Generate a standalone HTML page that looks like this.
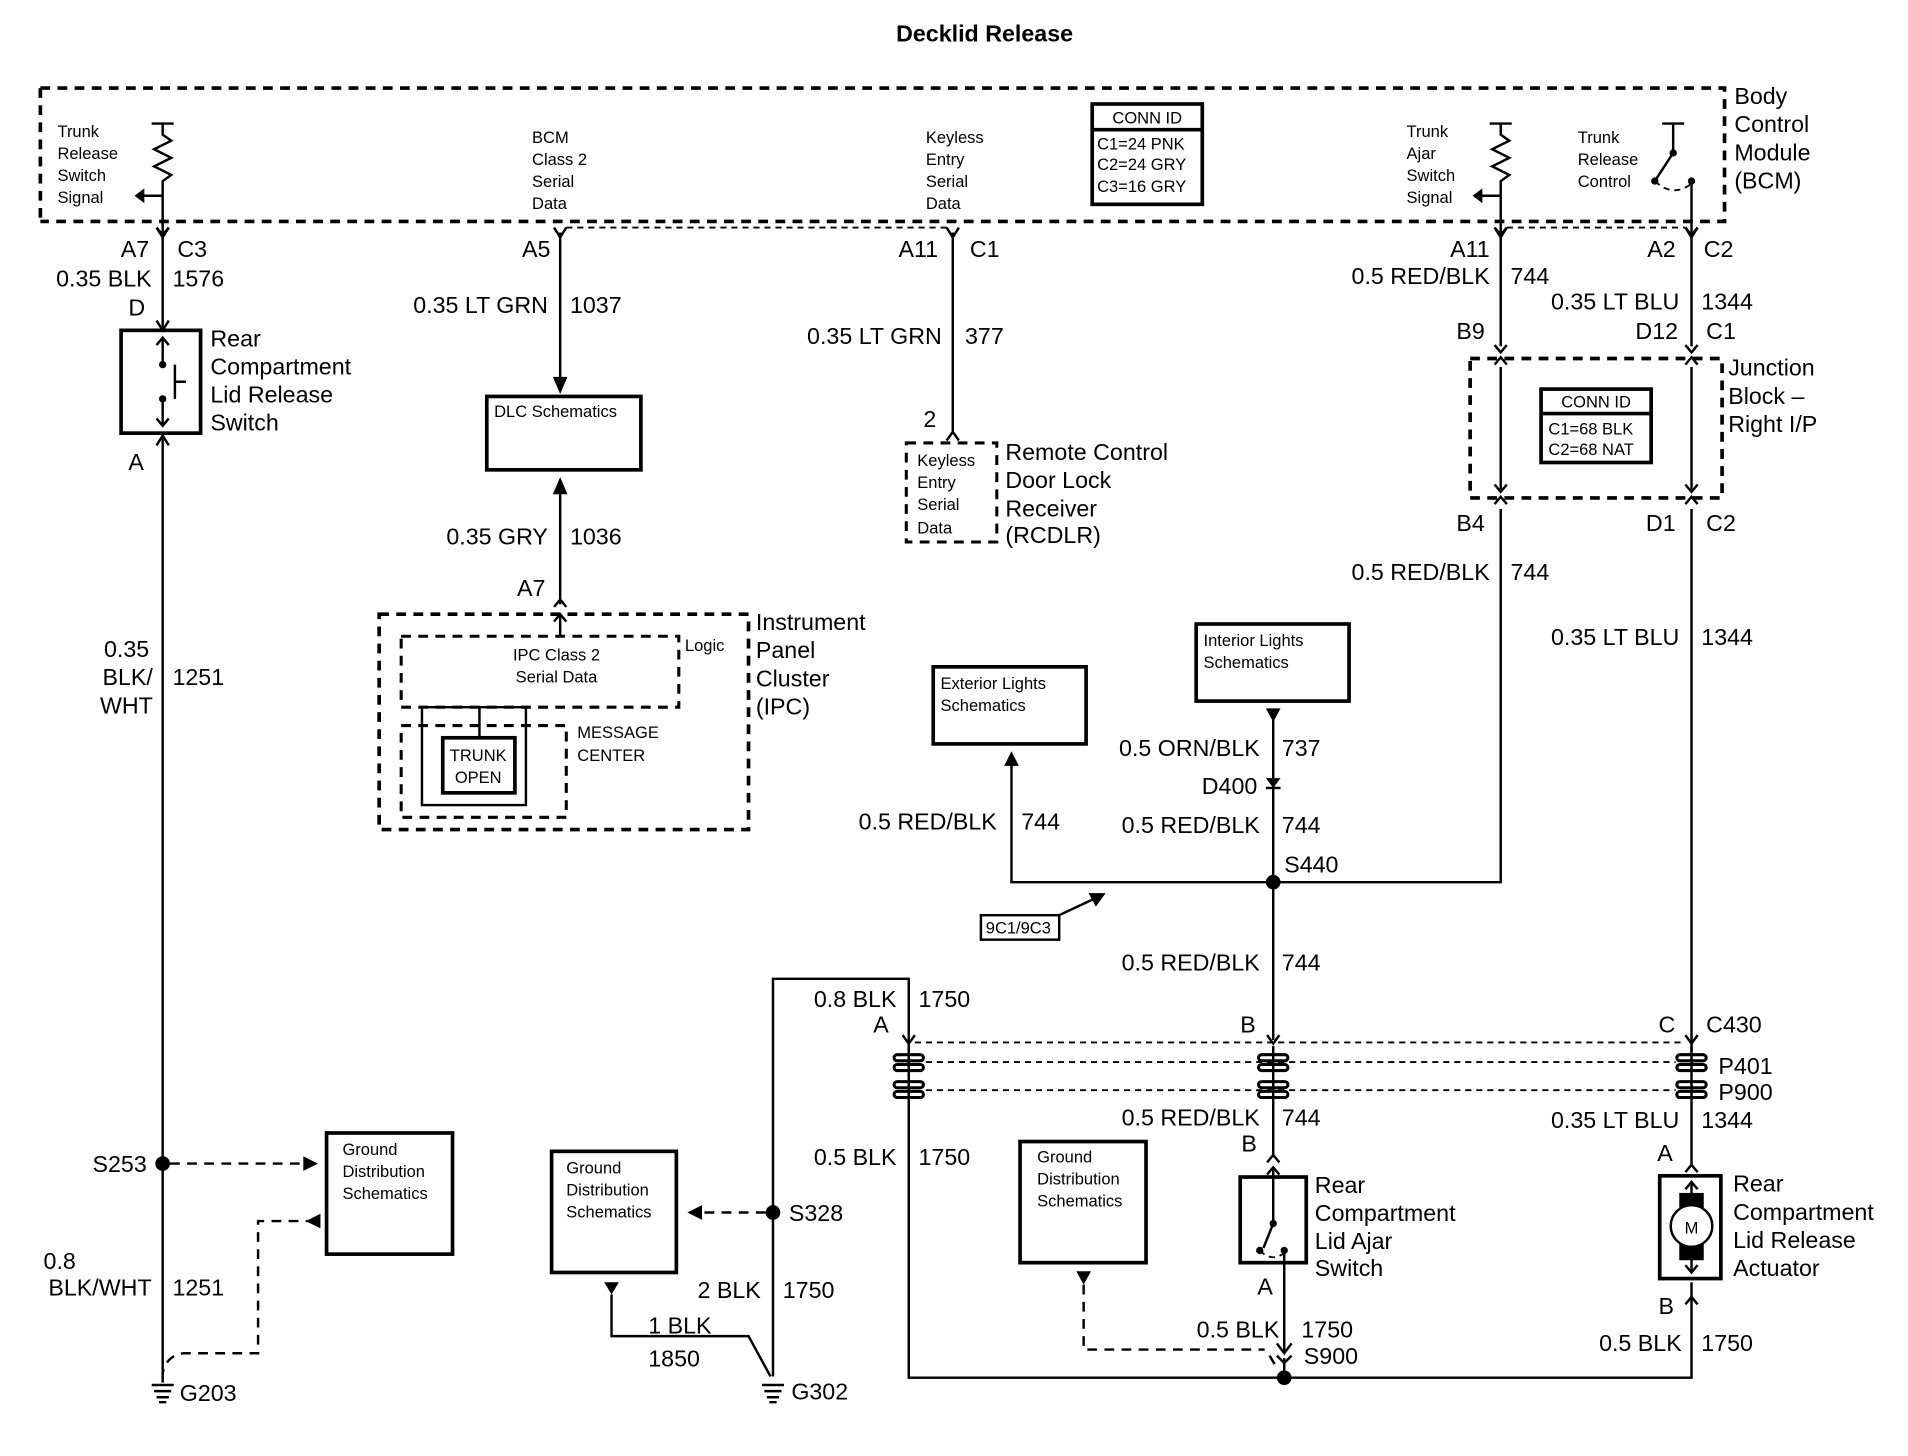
<!DOCTYPE html>
<html><head><meta charset="utf-8"><style>
html,body{margin:0;padding:0;background:#fff;}
svg{display:block;}
text{font-family:"Liberation Sans Narrow","Liberation Sans",sans-serif;fill:#000;}
.L{font-size:19px;}
.S{font-size:13.5px;}
.e{text-anchor:end;}
.w{stroke:#000;stroke-width:2;fill:none;}
.d{stroke:#000;stroke-width:3;fill:none;stroke-dasharray:8,6;}
.dt{stroke:#000;stroke-width:1.5;fill:none;stroke-dasharray:5,4;}
.b{stroke:#000;stroke-width:3;fill:none;}
</style></head><body>
<svg width="1908" height="1456" viewBox="0 0 1560 1190" preserveAspectRatio="none" xmlns="http://www.w3.org/2000/svg">
<rect width="1560" height="1190" fill="#fff"/>
<text x="805" y="34" class="L" style="font-weight:bold" text-anchor="middle">Decklid Release</text>

<path class="d" d="M33 72 H1410 V181 H33 M33 72 V181"/>
<text class="L" x="1418" y="85">Body</text><text class="L" x="1418" y="108">Control</text><text class="L" x="1418" y="131">Module</text><text class="L" x="1418" y="154">(BCM)</text>
<g class="S"><text x="47" y="112">Trunk</text><text x="47" y="130">Release</text><text x="47" y="148">Switch</text><text x="47" y="166">Signal</text>
<text x="435" y="117">BCM</text><text x="435" y="135">Class 2</text><text x="435" y="153">Serial</text><text x="435" y="171">Data</text>
<text x="757" y="117">Keyless</text><text x="757" y="135">Entry</text><text x="757" y="153">Serial</text><text x="757" y="171">Data</text>
<text x="1150" y="112">Trunk</text><text x="1150" y="130">Ajar</text><text x="1150" y="148">Switch</text><text x="1150" y="166">Signal</text>
<text x="1290" y="117">Trunk</text><text x="1290" y="135">Release</text><text x="1290" y="153">Control</text></g>
<g class="w">
<path d="M124 101H142 M133 101V110 L140 115 L126 122 L140 129 L126 136 L140 143 L133 148 V192 M128 186 L133 192 L138 186 M133 160H112"/>
<path d="M1218 101H1236 M1227 101V110 L1234 115 L1220 122 L1234 129 L1220 136 L1234 143 L1227 148 V192 M1222 186 L1227 192 L1232 186 M1227 160H1206"/>
<path d="M1359 101H1377 M1368 101V125 L1353 148 M1383 150V192 M1378 186 L1383 192 L1388 186"/>
</g>
<path d="M110 160 L118 154 L118 166Z M1204 160 L1212 154 L1212 166Z"/>
<circle cx="1368" cy="125" r="3"/><circle cx="1353" cy="148" r="3"/><circle cx="1383" cy="148" r="3"/>
<path class="dt" d="M1353 148 Q1368 162 1383 150"/>
<rect x="893" y="85" width="90" height="82" class="b"/><line x1="893" y1="106" x2="983" y2="106" class="b"/>
<g class="S"><text x="938" y="101" text-anchor="middle">CONN ID</text><text x="897" y="122">C1=24 PNK</text><text x="897" y="139">C2=24 GRY</text><text x="897" y="157">C3=16 GRY</text></g>

<g class="w"><path d="M128 186 L133 194 L138 186 M453 186 L458 194 L463 186 M774 186 L779 194 L784 186 M1222 186 L1227 194 L1232 186 M1378 186 L1383 194 L1388 186"/></g>
<path class="dt" d="M463 186 H774 M1232 186 H1378"/>

<g class="w"><path d="M133 190 V270 M133 354 V1130"/></g>
<text class="L e" x="122" y="210">A7</text><text class="L" x="145" y="210">C3</text>
<text class="L e" x="124" y="234">0.35 BLK</text><text class="L" x="141" y="234">1576</text>
<text class="L" x="105" y="258">D</text>
<path class="w" d="M128 262 L133 270 L138 262"/>
<rect x="99" y="270" width="65" height="84" class="b"/>
<path class="w" d="M133 276 V298 M133 326 V348 M143 298 V326 M143 312 H152"/>
<circle cx="133" cy="298" r="3"/><circle cx="133" cy="326" r="3"/>
<path class="w" d="M128 282 L133 276 L138 282 M128 342 L133 348 L138 342 M128 364 L133 356 L138 364"/>
<g class="L"><text x="172" y="283">Rear</text><text x="172" y="306">Compartment</text><text x="172" y="329">Lid Release</text><text x="172" y="352">Switch</text></g>
<text class="L" x="105" y="384">A</text>
<text class="L e" x="122" y="537">0.35</text><text class="L e" x="125" y="560">BLK/</text><text class="L e" x="125" y="583">WHT</text><text class="L" x="141" y="560">1251</text>
<circle cx="133" cy="951" r="6"/>
<text class="L e" x="120" y="958">S253</text>
<path class="d" style="stroke-width:2" d="M139 951 H252 M258 998 H211 V1106 H150 Q136 1108 133 1122"/>
<path d="M260 951 L248 945 L248 957Z M250 998 L262 992 L262 1004Z"/>
<rect x="267" y="926" width="103" height="99" class="b"/>
<g class="S"><text x="280" y="944">Ground</text><text x="280" y="962">Distribution</text><text x="280" y="980">Schematics</text></g>
<text class="L e" x="62" y="1037">0.8</text><text class="L e" x="124" y="1059">BLK/WHT</text><text class="L" x="141" y="1059">1251</text>
<path class="w" d="M124 1132H142 M126 1137H140 M128 1142H138 M130 1146H136"/>
<text class="L" x="147" y="1145">G203</text>

<path class="w" d="M458 190 V316 M458 392 V494"/>
<path d="M458 322 L452 308 L464 308Z M458 390 L452 404 L464 404Z"/>
<text class="L e" x="450" y="210">A5</text>
<text class="L e" x="448" y="256">0.35 LT GRN</text><text class="L" x="466" y="256">1037</text>
<rect x="398" y="324" width="126" height="60" class="b"/>
<text class="S" x="404" y="341">DLC Schematics</text>
<text class="L e" x="448" y="445">0.35 GRY</text><text class="L" x="466" y="445">1036</text>
<text class="L e" x="446" y="487">A7</text>
<path class="w" d="M453 496 L458 490 L463 496 M453 508 L458 502 L463 508 M458 502 V520"/>
<path class="d" d="M310 502 H612 V678 H310 Z"/>
<path class="d" style="stroke-width:2.5" d="M328 520 H555 V578 H328 Z M328 593 H463 V668 H328 Z"/>
<g class="S"><text x="455" y="540" text-anchor="middle">IPC Class 2</text><text x="455" y="558" text-anchor="middle">Serial Data</text>
<text x="560" y="532">Logic</text><text x="472" y="603">MESSAGE</text><text x="472" y="622">CENTER</text></g>
<path class="w" d="M392 578 H345 V658 H430 V578 H392 M392 578 V603"/>
<rect x="362" y="603" width="59" height="45" class="b"/>
<g class="S"><text x="391" y="622" text-anchor="middle">TRUNK</text><text x="391" y="640" text-anchor="middle">OPEN</text></g>
<g class="L"><text x="618" y="515">Instrument</text><text x="618" y="538">Panel</text><text x="618" y="561">Cluster</text><text x="618" y="584">(IPC)</text></g>

<path class="w" d="M779 190 V355 M774 360 L779 353 L784 360"/>
<text class="L e" x="767" y="210">A11</text><text class="L" x="793" y="210">C1</text>
<text class="L e" x="770" y="281">0.35 LT GRN</text><text class="L" x="789" y="281">377</text>
<text class="L" x="755" y="349">2</text>
<path class="d" style="stroke-width:2.5" d="M741 362 H815 V443 H741 Z"/>
<g class="S"><text x="750" y="381">Keyless</text><text x="750" y="399">Entry</text><text x="750" y="417">Serial</text><text x="750" y="436">Data</text></g>
<g class="L"><text x="822" y="376">Remote Control</text><text x="822" y="399">Door Lock</text><text x="822" y="422">Receiver</text><text x="822" y="444">(RCDLR)</text></g>

<path class="w" d="M1227 190 V283 M1227 300 V400 M1227 416 V721 H1041"/>
<text class="L e" x="1218" y="210">A11</text>
<text class="L e" x="1218" y="232">0.5 RED/BLK</text><text class="L" x="1235" y="232">744</text>
<text class="L e" x="1214" y="277">B9</text>
<path class="w" d="M1222 282 L1227 288 L1232 282 M1222 298 L1227 292 L1232 298 M1222 396 L1227 402 L1232 396 M1222 412 L1227 406 L1232 412 M1378 282 L1383 288 L1388 282 M1378 298 L1383 292 L1388 298 M1378 396 L1383 402 L1388 396 M1378 412 L1383 406 L1388 412"/>
<path class="d" d="M1202 293 H1408 V407 H1202 Z"/>
<rect x="1260" y="318" width="90" height="60" class="b"/><line x1="1260" y1="338" x2="1350" y2="338" class="b"/>
<g class="S"><text x="1305" y="333" text-anchor="middle">CONN ID</text><text x="1266" y="355">C1=68 BLK</text><text x="1266" y="372">C2=68 NAT</text></g>
<g class="L"><text x="1413" y="307">Junction</text><text x="1413" y="330">Block –</text><text x="1413" y="353">Right I/P</text></g>
<text class="L e" x="1214" y="434">B4</text>
<text class="L e" x="1218" y="474">0.5 RED/BLK</text><text class="L" x="1235" y="474">744</text>

<path class="w" d="M1383 190 V283 M1383 300 V400 M1383 416 V860"/>
<text class="L e" x="1370" y="210">A2</text><text class="L" x="1393" y="210">C2</text>
<text class="L e" x="1373" y="253">0.35 LT BLU</text><text class="L" x="1391" y="253">1344</text>
<text class="L e" x="1372" y="277">D12</text><text class="L" x="1395" y="277">C1</text>
<text class="L e" x="1370" y="434">D1</text><text class="L" x="1395" y="434">C2</text>
<text class="L e" x="1373" y="527">0.35 LT BLU</text><text class="L" x="1391" y="527">1344</text>

<rect x="763" y="545" width="125" height="63" class="b"/>
<g class="S"><text x="769" y="563">Exterior Lights</text><text x="769" y="581">Schematics</text></g>
<rect x="978" y="510" width="125" height="63" class="b"/>
<g class="S"><text x="984" y="528">Interior Lights</text><text x="984" y="546">Schematics</text></g>
<path class="w" d="M1041 582 V850 M827 622 V721 H1041"/>
<path d="M1041 590 L1035 579 L1047 579Z M827 614 L821 626 L833 626Z"/>
<path d="M1041 644 L1035 636 L1047 636Z"/><path class="w" d="M1035 644 H1047"/>
<text class="L e" x="1030" y="618">0.5 ORN/BLK</text><text class="L" x="1048" y="618">737</text>
<text class="L e" x="1028" y="649">D400</text>
<text class="L e" x="1030" y="681">0.5 RED/BLK</text><text class="L" x="1048" y="681">744</text>
<text class="L e" x="815" y="678">0.5 RED/BLK</text><text class="L" x="835" y="678">744</text>
<circle cx="1041" cy="721" r="6"/>
<text class="L" x="1050" y="713">S440</text>
<rect x="802" y="748" width="64" height="20" class="w"/>
<text class="S" x="806" y="763">9C1/9C3</text>
<path class="w" d="M866 748 L898 733"/><path d="M904 730 L890 730 L896 741Z"/>
<text class="L e" x="1030" y="793">0.5 RED/BLK</text><text class="L" x="1048" y="793">744</text>

<path class="w" d="M632 1125 V800 H743 V860 M743 893 V1126 H1383 V1048"/>
<text class="L e" x="733" y="823">0.8 BLK</text><text class="L" x="751" y="823">1750</text>
<text class="L" x="714" y="844">A</text><text class="L" x="1014" y="844">B</text><text class="L" x="1356" y="844">C</text><text class="L" x="1395" y="844">C430</text>
<path class="w" d="M738 846 L743 853 L748 846 M1036 846 L1041 853 L1046 846 M1378 846 L1383 853 L1388 846"/>
<path class="dt" d="M748 852 H1378 M757 868 H1370 M757 891 H1370"/>
<g fill="#fff" stroke="#000" stroke-width="2.5">
<rect x="731" y="862" width="24" height="5" rx="2.5"/><rect x="731" y="870" width="24" height="5" rx="2.5"/>
<rect x="731" y="884" width="24" height="5" rx="2.5"/><rect x="731" y="892" width="24" height="5" rx="2.5"/>
<rect x="1029" y="862" width="24" height="5" rx="2.5"/><rect x="1029" y="870" width="24" height="5" rx="2.5"/>
<rect x="1029" y="884" width="24" height="5" rx="2.5"/><rect x="1029" y="892" width="24" height="5" rx="2.5"/>
<rect x="1371" y="862" width="24" height="5" rx="2.5"/><rect x="1371" y="870" width="24" height="5" rx="2.5"/>
<rect x="1371" y="884" width="24" height="5" rx="2.5"/><rect x="1371" y="892" width="24" height="5" rx="2.5"/>
</g>
<path class="w" d="M743 855 V900 M1041 855 V900 M1383 855 V900"/>
<text class="L" x="1405" y="878">P401</text><text class="L" x="1405" y="899">P900</text>
<text class="L e" x="733" y="952">0.5 BLK</text><text class="L" x="751" y="952">1750</text>

<path class="w" d="M1041 900 V946 M1036 950 L1041 944 L1046 950 M1036 960 L1041 954 L1046 960"/>
<text class="L e" x="1030" y="920">0.5 RED/BLK</text><text class="L" x="1048" y="920">744</text>
<text class="L" x="1015" y="941">B</text>
<rect x="1014" y="962" width="54" height="70" class="b"/>
<path class="w" d="M1041 954 V1000 L1033 1020 M1050 1020 V1105 M1044 1098 L1050 1106 L1056 1098 M1044 1108 L1050 1114 L1056 1108 M1050 1110 V1126"/>
<circle cx="1041" cy="1000" r="3"/><circle cx="1030" cy="1022" r="3"/><circle cx="1050" cy="1022" r="3"/>
<path class="dt" d="M1030 1022 Q1040 1032 1050 1024"/>
<g class="L"><text x="1075" y="975">Rear</text><text x="1075" y="998">Compartment</text><text x="1075" y="1021">Lid Ajar</text><text x="1075" y="1043">Switch</text></g>
<text class="L" x="1028" y="1058">A</text>
<text class="L e" x="1046" y="1093">0.5 BLK</text><text class="L" x="1064" y="1093">1750</text>
<text class="L" x="1066" y="1115">S900</text>
<circle cx="1050" cy="1126" r="6"/>
<rect x="834" y="933" width="103" height="99" class="b"/>
<g class="S"><text x="848" y="950">Ground</text><text x="848" y="968">Distribution</text><text x="848" y="986">Schematics</text></g>
<path d="M886 1050 L880 1039 L892 1039Z"/>
<path class="d" style="stroke-width:2" d="M886 1050 V1103 H1034 M1038 1108 L1044 1118"/>

<text class="L e" x="1373" y="922">0.35 LT BLU</text><text class="L" x="1391" y="922">1344</text>
<text class="L" x="1355" y="949">A</text>
<path class="w" d="M1383 900 V952 M1378 958 L1383 952 L1388 958 M1378 1066 L1383 1060 L1388 1066"/>
<rect x="1357" y="961" width="50" height="84" class="b"/>
<path class="w" d="M1383 966 V1040 M1378 972 L1383 966 L1388 972 M1378 1034 L1383 1040 L1388 1034"/>
<rect x="1373" y="975" width="20" height="55"/>
<circle cx="1383" cy="1002" r="17" fill="#fff" stroke="#000" stroke-width="2"/>
<text class="S" x="1383" y="1008" text-anchor="middle">M</text>
<g class="L"><text x="1417" y="974">Rear</text><text x="1417" y="997">Compartment</text><text x="1417" y="1020">Lid Release</text><text x="1417" y="1043">Actuator</text></g>
<text class="L" x="1356" y="1074">B</text>
<text class="L e" x="1375" y="1104">0.5 BLK</text><text class="L" x="1391" y="1104">1750</text>

<rect x="451" y="941" width="102" height="99" class="b"/>
<g class="S"><text x="463" y="959">Ground</text><text x="463" y="977">Distribution</text><text x="463" y="995">Schematics</text></g>
<circle cx="632" cy="991" r="6"/><text class="L" x="645" y="998">S328</text>
<path class="d" style="stroke-width:2" d="M626 991 H575"/><path d="M562 991 L574 985 L574 997Z"/>
<path d="M500 1058 L494 1048 L506 1048Z"/>
<path class="w" d="M500 1058 V1092 H612 L630 1125"/>
<text class="L e" x="622" y="1061">2 BLK</text><text class="L" x="640" y="1061">1750</text>
<text class="L" x="530" y="1090">1 BLK</text><text class="L" x="530" y="1117">1850</text>
<path class="w" d="M623 1132H641 M625 1137H639 M627 1142H637 M629 1146H635"/>
<text class="L" x="647" y="1144">G302</text>
</svg>
</body></html>
